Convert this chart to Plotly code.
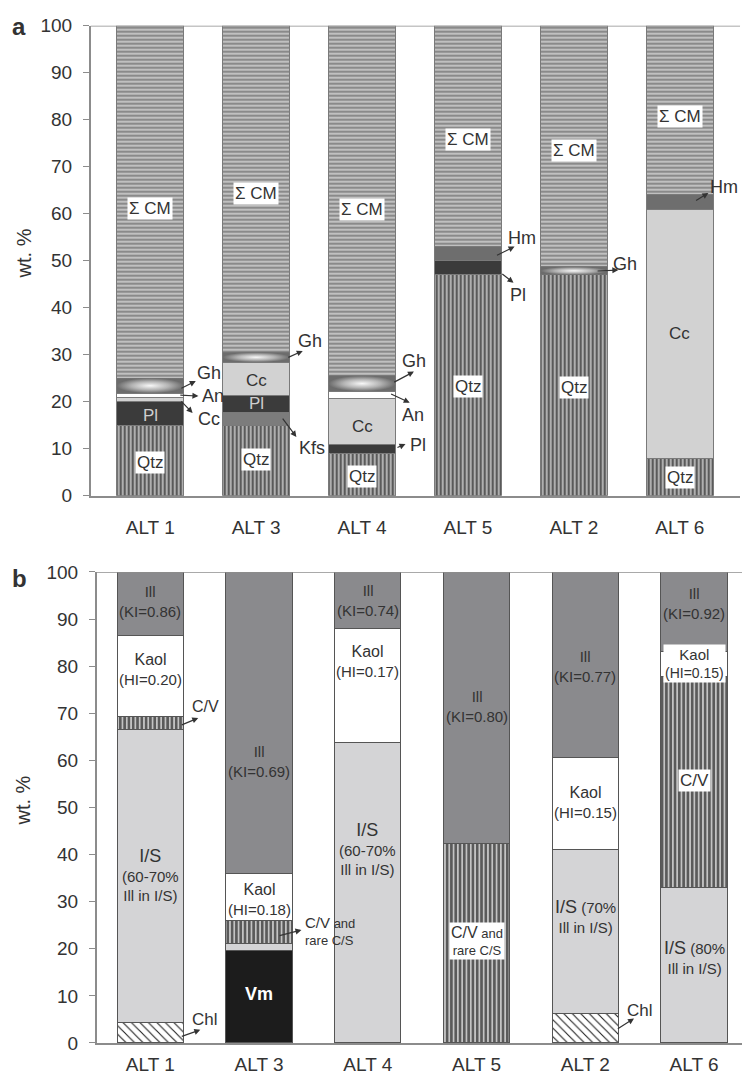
import base64
import plotly.graph_objects as go

# Sample sites, in plotting order
sites = ["ALT 1", "ALT 3", "ALT 4", "ALT 5", "ALT 2", "ALT 6"]

# (a) bulk mineralogy, wt.%
qtz = [15, 15, 9, 47, 47, 8]
kfs = [0, 2.7, 0, 0, 0, 0]
pl = [5, 3.7, 2, 3, 0, 0]
cc = [0.8, 7, 9.7, 0, 0, 53]
an = [1, 0, 1.5, 0, 0, 0]
gh = [3.2, 2.1, 3.3, 0, 1.7, 0]
hm = [0, 0, 0, 3, 0, 3]
cm = [75, 69.5, 74.5, 47, 51.3, 36]

# (b) clay fraction, wt.%
chl = [4.3, 0, 0, 0, 6.3, 0]
vm = [0, 19.7, 0, 0, 0, 0]
i_s = [62.2, 1.5, 63.8, 0, 34.8, 33.1]
cv = [2.9, 4.8, 0, 42.4, 0, 44.8]
kaol = [17.2, 10, 24.2, 0, 19.6, 5.2]
ill = [13.4, 64, 12, 57.6, 39.3, 16.9]

ill_ki = ["0.86", "0.69", "0.74", "0.80", "0.77", "0.92"]
kaol_hi = ["0.20", "0.18", "0.17", None, "0.15", "0.15"]

FONT = "Liberation Sans, Arial, sans-serif"
TXT = "#333333"
AXC = "#8c8c8c"
WA, WB = 0.633, 0.61

fig = go.Figure()


def seg(vals, xa, ya, width, color, pattern=None, lc="#7a7a7a"):
    m = dict(color=color, line=dict(color=lc, width=1))
    if pattern:
        m["pattern"] = dict(fillmode="overlay", fgopacity=1, **pattern)
    fig.add_bar(x=sites, y=vals, xaxis=xa, yaxis=ya, width=width, marker=m,
                showlegend=False, hoverinfo="skip")


vstripe = dict(shape="|", fgcolor="#5a5a5a", size=4, solidity=0.72)
hstripe = dict(shape="-", fgcolor="#8a8a8a", size=4, solidity=0.72)

# panel (a) stack, bottom to top
seg(qtz, "x", "y", WA, "#f2f2f2", vstripe)
seg(kfs, "x", "y", WA, "#7c7c7c")
seg(pl, "x", "y", WA, "#3b3b3b")
seg(cc, "x", "y", WA, "#d2d2d2")
seg(an, "x", "y", WA, "#ffffff")
seg(gh, "x", "y", WA, "#9a9a9a")
seg(hm, "x", "y", WA, "#6e6e6e")
seg(cm, "x", "y", WA, "#ebebeb", hstripe)

# panel (b) stack, bottom to top
seg(chl, "x2", "y2", WB, "#ffffff",
    dict(shape="\\", fgcolor="#1e1e1e", size=6, solidity=0.18), lc="#555555")
seg(vm, "x2", "y2", WB, "#1c1c1c", lc="#555555")
seg(i_s, "x2", "y2", WB, "#d4d4d6", lc="#555555")
seg(cv, "x2", "y2", WB, "#f0f0f0",
    dict(shape="|", fgcolor="#5a5a5a", size=4.3, solidity=0.72), lc="#555555")
seg(kaol, "x2", "y2", WB, "#ffffff", lc="#555555")
seg(ill, "x2", "y2", WB, "#8a8a8d", lc="#555555")

# goethite bands: radial grey-white shading laid over the Gh segments
svg = ("<svg xmlns='http://www.w3.org/2000/svg' width='100' height='20' "
       "viewBox='0 0 100 20' preserveAspectRatio='none'><defs>"
       "<radialGradient id='g' cx='0.5' cy='0.5' r='0.5'>"
       "<stop offset='0' stop-color='#f8f8f8'/><stop offset='0.55' stop-color='#b4b4b4'/>"
       "<stop offset='1' stop-color='#6c6c6c'/></radialGradient></defs>"
       "<rect width='100' height='20' fill='url(#g)'/></svg>")
gh_src = "data:image/svg+xml;base64," + base64.b64encode(svg.encode()).decode()
images = []
for i, h in enumerate(gh):
    if h <= 0:
        continue
    top = qtz[i] + kfs[i] + pl[i] + cc[i] + an[i] + h
    images.append(dict(source=gh_src, xref="x", yref="y", x=i - WA / 2, y=top,
                       sizex=WA, sizey=h, xanchor="left", yanchor="top",
                       sizing="stretch", layer="above"))

ann = []


def lab(xr, yr, x, y, text, size=17, color=TXT, box=False, xanchor="center",
        align="center"):
    ann.append(dict(xref=xr, yref=yr, x=x, y=y, text=text, showarrow=False,
                    xanchor=xanchor, yanchor="middle", align=align,
                    font=dict(family=FONT, size=size, color=color),
                    bgcolor="#ffffff" if box else None, borderpad=1))


def arrow(xr, yr, i, tx, ty, hx, hy):
    ann.append(dict(xref=xr, yref=yr, axref=xr, ayref=yr, x=i + hx, y=hy,
                    ax=i + tx, ay=ty, text="", showarrow=True, arrowhead=2,
                    arrowsize=1, arrowwidth=1.2, arrowcolor="#333333",
                    standoff=0, startstandoff=0))


# ---- panel (a) labels
for i, y in enumerate([61.2, 64.3, 61, 75.7, 73.5, 80.6]):
    lab("x", "y", i, y, "Σ CM", box=True)
for i, y in enumerate([7, 7.8, 4, 23.2, 23, 3.8]):
    lab("x", "y", i, y, "Qtz", box=True)
for i, y in [(0, 17), (1, 19.7)]:
    lab("x", "y", i, y, "Pl", color="#cfcfcf")
for i, y in [(1, 24.6), (2, 14.8), (5, 34.6)]:
    lab("x", "y", i, y, "Cc")

# labels beside the bars with pointer arrows: (site, label dx, label y, text,
# tail dx, tail y, head dx, head y)
side_a = [
    (0, 0.42, 26.1, "Gh", 0.28, 22.7, 0.43, 24.4),
    (0, 0.47, 21.2, "An", 0.27, 21.4, 0.455, 21.2),
    (0, 0.43, 16.3, "Cc", 0.28, 20.4, 0.40, 17.6),
    (1, 0.38, 32.9, "Gh", 0.29, 29.3, 0.44, 30.8),
    (1, 0.39, 10.1, "Kfs", 0.24, 16.7, 0.38, 12.5),
    (2, 0.36, 28.6, "Gh", 0.29, 24.0, 0.49, 26.4),
    (2, 0.36, 17.2, "An", 0.26, 21.8, 0.45, 19.8),
    (2, 0.43, 10.8, "Pl", 0.32, 10.1, 0.41, 11.0),
    (3, 0.36, 54.8, "Hm", 0.26, 51.0, 0.44, 53.0),
    (3, 0.375, 42.7, "Pl", 0.31, 47.4, 0.43, 45.3),
    (4, 0.355, 49.4, "Gh", 0.21, 47.8, 0.42, 48.0),
    (5, 0.27, 65.6, "Hm", 0.14, 62.6, 0.27, 64.4),
]
for i, lx, ly, t, tx, ty, hx, hy in side_a:
    lab("x", "y", i + lx, ly, t, size=18, xanchor="left")
    arrow("x", "y", i, tx, ty, hx, hy)

# ---- panel (b) labels
ill_y = [93.8, 59.7, 94, 71.5, 79.9, 93.4]
for i, y in enumerate(ill_y):
    lab("x2", "y2", i, y, f"Ill<br>(KI={ill_ki[i]})", size=15)
kaol_y = [79.4, 30.5, 80.9, None, 51, 80.5]
for i, y in enumerate(kaol_y):
    if y is None:
        continue
    small = i == 5
    lab("x2", "y2", i, y,
        f"<span style='font-size:{16 if not small else 15}px'>Kaol</span><br>(HI={kaol_hi[i]})",
        size=15 if not small else 14, box=small)
lab("x2", "y2", 0, 35.7,
    "<span style='font-size:18px'>I/S</span><br>(60-70%<br>Ill in I/S)", size=15)
lab("x2", "y2", 2, 41.2,
    "<span style='font-size:18px'>I/S</span><br>(60-70%<br>Ill in I/S)", size=15)
lab("x2", "y2", 4, 26.8,
    "<span style='font-size:18px'>I/S</span> (70%<br>Ill in I/S)", size=15)
lab("x2", "y2", 5, 18.1,
    "<span style='font-size:18px'>I/S</span> (80%<br>Ill in I/S)", size=15)
lab("x2", "y2", 1, 10.4, "<b>Vm</b>", size=18, color="#ffffff")
lab("x2", "y2", 3, 21.7,
    "<span style='font-size:16px'>C/V</span> and<br>rare C/S", size=13, box=True)
lab("x2", "y2", 5, 55.8, "C/V", size=17, box=True)

side_b = [
    (0, 0.368, 71.4, "C/V", 16, 0.276, 67.4, 0.441, 69.0),
    (0, 0.368, 5.0, "Chl", 17, 0.276, 1.3, 0.46, 2.8),
    (1, 0.404, 23.8,
     "<span style='font-size:15px'>C/V</span> and<br>rare C/S", 13,
     0.175, 22.7, 0.39, 24.0),
    (4, 0.362, 6.9, "Chl", 17, 0.285, 2.8, 0.448, 5.2),
]
for i, lx, ly, t, fs, tx, ty, hx, hy in side_b:
    lab("x2", "y2", i + lx, ly, t, size=fs, xanchor="left", align="left")
    arrow("x2", "y2", i, tx, ty, hx, hy)

# axis titles and panel letters
for yy in (0.7647, 0.2558):
    ann.append(dict(xref="paper", yref="paper", x=0.0316, y=yy, text="wt. %",
                    textangle=-90, showarrow=False, xanchor="center",
                    yanchor="middle", font=dict(family=FONT, size=20, color=TXT)))
for letter, xx, yy in (("a", 0.0249, 0.9752), ("b", 0.0265, 0.4623)):
    ann.append(dict(xref="paper", yref="paper", x=xx, y=yy, text=f"<b>{letter}</b>",
                    showarrow=False, xanchor="center", yanchor="middle",
                    font=dict(family=FONT, size=24, color=TXT)))

yax = dict(range=[0, 100], dtick=10, showline=True, linecolor=AXC, linewidth=1.5,
           ticks="outside", ticklen=6, tickcolor=AXC, tickwidth=1.2,
           showgrid=False, zeroline=False, ticklabelstandoff=7, automargin=False,
           tickfont=dict(family=FONT, size=19, color=TXT), fixedrange=True)
xax = dict(type="category", showline=True, linecolor=AXC, linewidth=1.5,
           ticks="", showgrid=False, zeroline=False, automargin=False,
           tickfont=dict(family=FONT, size=19, color=TXT), fixedrange=True)

fig.update_layout(
    width=743, height=1075,
    margin=dict(l=0, r=0, t=0, b=0, autoexpand=False),
    paper_bgcolor="#ffffff", plot_bgcolor="#ffffff",
    barmode="stack",
    xaxis=dict(xax, domain=[0.1221, 0.996], range=[-0.562, 5.569],
               ticklabelstandoff=14),
    yaxis=dict(yax, domain=[0.53888, 0.97609]),
    xaxis2=dict(xax, domain=[0.1301, 0.9987], range=[-0.493, 5.441],
                anchor="y2", ticklabelstandoff=3),
    yaxis2=dict(yax, domain=[0.02977, 0.46791], anchor="x2"),
    shapes=[
        dict(type="line", xref="x domain", yref="y", x0=0, x1=1, y0=100, y1=100,
             line=dict(color=AXC, width=1.5)),
        dict(type="line", xref="x2 domain", yref="y2", x0=0, x1=1, y0=100, y1=100,
             line=dict(color=AXC, width=1.5)),
    ],
    images=images,
    annotations=ann,
)

fig.write_html("out.html")
